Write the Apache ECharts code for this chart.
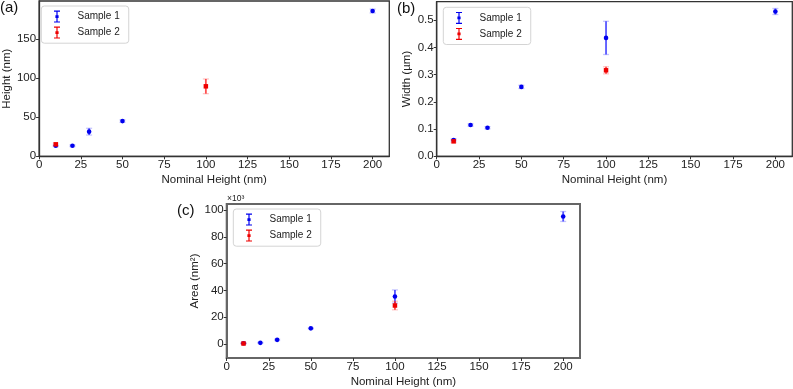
<!DOCTYPE html>
<html>
<head>
<meta charset="utf-8">
<script src="https://cdn.jsdelivr.net/npm/echarts@6/dist/echarts.min.js"></script>
<style>html,body{margin:0;padding:0;background:#fff}#c{width:793px;height:389px}</style>
</head>
<body>
<div id="c"></div>
<script>
// ---- data ----
const nominalS1 = [10, 20, 30, 50, 100, 200];
const nominalS2 = [10, 100];
const heightS1 = [13.5, 13.5, 31.5, 45, null, 185.8];
const heightS1Err = [1, 1, 4.3, 1.5, null, 2.5];
const heightS2 = [15.3, 89.5];
const heightS2Err = [1.5, 9.4];
const widthS1 = [0.060, 0.115, 0.105, 0.255, 0.435, 0.532];
const widthS1Err = [0.004, 0.004, 0.004, 0.006, 0.061, 0.011];
const widthS2 = [0.055, 0.316];
const widthS2Err = [0.005, 0.013];
const areaS1 = [0.7, 1.0, 3.2, 11.8, 35.5, 95.1];     // x10^3 nm^2
const areaS1Err = [0.2, 0.3, 0.5, 0.5, 4.9, 3.7];
const areaS2 = [0.5, 28.8];
const areaS2Err = [0.3, 3.2];
const xTicks = [0, 25, 50, 75, 100, 125, 150, 175, 200];
const yTicksA = [0, 50, 100, 150];
const yTicksB = [0, 0.1, 0.2, 0.3, 0.4, 0.5];
const yTicksC = [0, 20, 40, 60, 80, 100];

const FONT = 'Liberation Sans, Arial, sans-serif';
const BLUE = '#0000ee', RED = '#ee0000';
const BLUE_BAR = 'rgba(30,30,255,0.75)', BLUE_CAP = 'rgba(60,60,255,0.3)';
const RED_BAR = 'rgba(255,20,20,0.75)', RED_CAP = 'rgba(255,60,60,0.3)';

function pts(xs, ys, es) {
  return xs.map((x, i) => [x, ys[i], es[i]]).filter(d => d[1] !== null);
}

function errSeries(idx, data, barColor, capColor) {
  return {
    type: 'custom', name: 'err', xAxisIndex: idx, yAxisIndex: idx, z: 2, silent: true,
    data: data,
    renderItem: function (params, api) {
      const x = api.value(0), y = api.value(1), e = api.value(2);
      const top = api.coord([x, y + e]);
      const bot = api.coord([x, y - e]);
      const hw = 3;
      return {
        type: 'group', children: [
          { type: 'line', shape: { x1: top[0], y1: top[1], x2: bot[0], y2: bot[1] }, style: { stroke: barColor, lineWidth: 1.8 } },
          { type: 'line', shape: { x1: top[0] - hw, y1: top[1], x2: top[0] + hw, y2: top[1] }, style: { stroke: capColor, lineWidth: 1.3 } },
          { type: 'line', shape: { x1: bot[0] - hw, y1: bot[1], x2: bot[0] + hw, y2: bot[1] }, style: { stroke: capColor, lineWidth: 1.3 } }
        ]
      };
    }
  };
}
function markSeries(idx, name, data, color, symbol) {
  return {
    type: 'scatter', name: name, xAxisIndex: idx, yAxisIndex: idx, z: 3,
    symbol: symbol, symbolSize: symbol === 'rect' ? 4.5 : 4.6,
    itemStyle: { color: color, opacity: 1 },
    data: data.map(d => [d[0], d[1]])
  };
}

const grids = [
  { left: 35.7, top: 1, width: 353.6, height: 155.3, color: '#333', bw: 1.3 },
  { left: 436.7, top: 1.7, width: 355.6, height: 154.6, color: '#333', bw: 1.3 },
  { left: 226.7, top: 204, width: 353.3, height: 155.3, color: '#666', bw: 2 }
];
const yConf = [
  { min: 0, max: 198.6, ticks: yTicksA, name: 'Height (nm)', gap: 24, fmt: v => String(v) },
  { min: 0, max: 0.568, ticks: yTicksB, name: 'Width (µm)', gap: 24, fmt: v => v.toFixed(1) },
  { min: -10.3, max: 104.4, ticks: yTicksC, name: 'Area (nm²)', gap: 24, fmt: v => String(v) }
];
const xNameGap = [18, 18, 18];

const iconPath = 'path://M0,0H6V1.2H0Z M2.4,0H3.6V12H2.4Z M0,10.8H6V12H0Z M1.4,4.6H4.6V7.4H1.4Z';
function legend(left, top) {
  return {
    orient: 'vertical', left: left, top: top,
    itemWidth: 6, itemHeight: 12, itemGap: 4,
    padding: [4.6, 9, 4.6, 12.7],
    backgroundColor: '#fff', borderColor: '#d4d4d4', borderWidth: 1, borderRadius: 3,
    textStyle: { fontFamily: FONT, fontSize: 10, color: '#222', padding: [0, 0, 0, 12.5] },
    selectedMode: false,
    data: [
      { name: 'Sample 1', icon: iconPath, itemStyle: { color: BLUE } },
      { name: 'Sample 2', icon: iconPath, itemStyle: { color: RED } }
    ]
  };
}

const labelStyle = { fontFamily: FONT, fontSize: 11.5, color: '#222' };

const option = {
  animation: false,
  backgroundColor: '#fff',
  grid: grids.map(g => ({ left: g.left, top: g.top, width: g.width, height: g.height, show: true, borderColor: g.color, borderWidth: g.bw, backgroundColor: 'transparent' })),
  xAxis: grids.map((g, i) => ({
    type: 'value', gridIndex: i, min: 0, max: 210,
    name: 'Nominal Height (nm)', nameLocation: 'middle', nameGap: xNameGap[i],
    nameTextStyle: labelStyle,
    splitLine: { show: false },
    axisLine: { show: true, onZero: false, lineStyle: { color: g.color, width: g.bw } },
    axisTick: { show: true, length: 3, customValues: xTicks, lineStyle: { color: '#333' } },
    axisLabel: Object.assign({ customValues: xTicks, margin: 3 }, labelStyle)
  })),
  yAxis: grids.map((g, i) => ({
    type: 'value', gridIndex: i, min: yConf[i].min, max: yConf[i].max,
    name: yConf[i].name, nameLocation: 'middle', nameGap: yConf[i].gap, nameRotate: 90,
    nameTextStyle: labelStyle,
    splitLine: { show: false },
    axisLine: { show: true, onZero: false, lineStyle: { color: g.color, width: g.bw } },
    axisTick: { show: true, length: 3, customValues: yConf[i].ticks, lineStyle: { color: '#333' } },
    axisLabel: Object.assign({ customValues: yConf[i].ticks, margin: 3, formatter: yConf[i].fmt }, labelStyle)
  })),
  legend: [legend(41.3, 6), legend(443.3, 7.3), legend(233.3, 209)],
  graphic: [
    { type: 'text', left: 0, top: 0, style: { text: '(a)', fontFamily: FONT, fontSize: 15, fill: '#111' } },
    { type: 'text', left: 397, top: 1, style: { text: '(b)', fontFamily: FONT, fontSize: 15, fill: '#111' } },
    { type: 'text', left: 177, top: 203, style: { text: '(c)', fontFamily: FONT, fontSize: 15, fill: '#111' } },
    { type: 'text', left: 227, top: 194, style: { text: '×10³', fontFamily: FONT, fontSize: 8.5, fill: '#222' } }
  ],
  series: [
    errSeries(0, pts(nominalS1, heightS1, heightS1Err), BLUE_BAR, BLUE_CAP),
    markSeries(0, 'Sample 1', pts(nominalS1, heightS1, heightS1Err), BLUE, 'circle'),
    errSeries(0, pts(nominalS2, heightS2, heightS2Err), RED_BAR, RED_CAP),
    markSeries(0, 'Sample 2', pts(nominalS2, heightS2, heightS2Err), RED, 'rect'),
    errSeries(1, pts(nominalS1, widthS1, widthS1Err), BLUE_BAR, BLUE_CAP),
    markSeries(1, 'Sample 1', pts(nominalS1, widthS1, widthS1Err), BLUE, 'circle'),
    errSeries(1, pts(nominalS2, widthS2, widthS2Err), RED_BAR, RED_CAP),
    markSeries(1, 'Sample 2', pts(nominalS2, widthS2, widthS2Err), RED, 'rect'),
    errSeries(2, pts(nominalS1, areaS1, areaS1Err), BLUE_BAR, BLUE_CAP),
    markSeries(2, 'Sample 1', pts(nominalS1, areaS1, areaS1Err), BLUE, 'circle'),
    errSeries(2, pts(nominalS2, areaS2, areaS2Err), RED_BAR, RED_CAP),
    markSeries(2, 'Sample 2', pts(nominalS2, areaS2, areaS2Err), RED, 'rect')
  ]
};
option.series.forEach((s, i) => { s.z = s.type === 'custom' ? 2 : 3; s.z2 = i; });
const chart = echarts.init(document.getElementById('c'), null, { renderer: 'canvas' });
chart.setOption(option);
</script>
</body>
</html>
